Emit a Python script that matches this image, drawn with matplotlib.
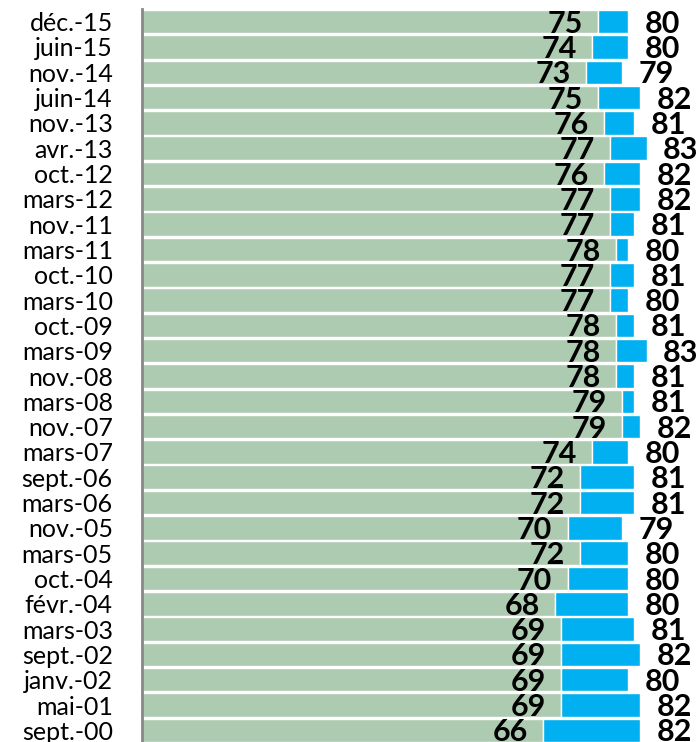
import matplotlib
matplotlib.use('Agg')
import matplotlib.pyplot as plt
from matplotlib.transforms import offset_copy

labels = ['déc.-15', 'juin-15', 'nov.-14', 'juin-14', 'nov.-13', 'avr.-13', 'oct.-12',
          'mars-12', 'nov.-11', 'mars-11', 'oct.-10', 'mars-10', 'oct.-09', 'mars-09',
          'nov.-08', 'mars-08', 'nov.-07', 'mars-07', 'sept.-06', 'mars-06', 'nov.-05',
          'mars-05', 'oct.-04', 'févr.-04', 'mars-03', 'sept.-02', 'janv.-02', 'mai-01',
          'sept.-00']
low = [75, 74, 73, 75, 76, 77, 76, 77, 77, 78, 77, 77, 78, 78, 78, 79, 79, 74,
       72, 72, 70, 72, 70, 68, 69, 69, 69, 69, 66]
high = [80, 80, 79, 82, 81, 83, 82, 82, 81, 80, 81, 80, 81, 83, 81, 81, 82, 80,
        81, 81, 79, 80, 80, 80, 81, 82, 80, 82, 82]

W, H = 697, 742
fig = plt.figure(figsize=(W / 100, H / 100), dpi=100)
ax = fig.add_axes([142 / W, -1 / H, (W - 142) / W, 734 / H])

y = list(range(len(labels)))
diff = [h - l for h, l in zip(high, low)]
ax.barh(y, low, height=0.93, color='#adcbb0', edgecolor='white', linewidth=1)
ax.barh(y, diff, left=low, height=0.93, color='#00b0f0', edgecolor='white', linewidth=1)

ax.set_xlim(0, 91.3)
ax.set_ylim(len(labels) - 0.5, -0.5)

font = 'Lato'
for i, (l, h) in enumerate(zip(low, high)):
    t1 = offset_copy(ax.transData, fig=fig, x=-11, y=-1.5, units='points')
    ax.text(l, i, str(l), transform=t1, ha='right', va='center', fontsize=22,
            fontweight='bold', family=font, color='black')
    t2 = offset_copy(ax.transData, fig=fig, x=11.5, y=-1.5, units='points')
    ax.text(h, i, str(h), transform=t2, ha='left', va='center', fontsize=22,
            fontweight='bold', family=font, color='black')

ax.set_yticks(y)
ax.set_yticklabels(labels, fontsize=18, family=font)
ax.tick_params(axis='y', length=0, pad=21)
ax.set_xticks([])
for s in ['top', 'right', 'bottom']:
    ax.spines[s].set_visible(False)
ax.spines['left'].set_color('#888888')
ax.spines['left'].set_linewidth(2)

fig.savefig('out.png', dpi=100)
